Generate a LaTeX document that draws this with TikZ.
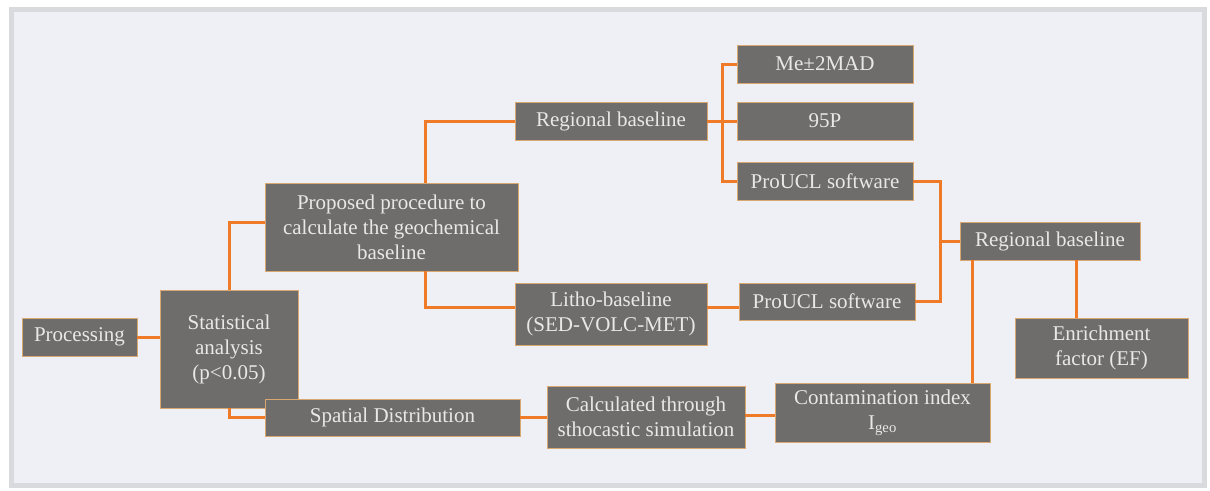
\documentclass[tikz,border=0pt]{standalone}
\usepackage{fontspec}
\setmainfont{Liberation Serif}
\definecolor{boxfill}{HTML}{6E6D6B}
\definecolor{boxtext}{HTML}{E8E8E8}
\definecolor{boxedge}{HTML}{D8A870}
\definecolor{linkorange}{HTML}{EF7B28}
\definecolor{bgfill}{HTML}{EFF0F5}
\definecolor{framegrey}{HTML}{D9DADD}
\begin{document}
\begin{tikzpicture}[x=1pt,y=-1pt,
  box/.style={draw=boxedge, line width=0.8pt, fill=boxfill, text=boxtext,
    font=\fontsize{21}{25}\selectfont, align=center, inner sep=0pt},
  link/.style={draw=linkorange, line width=3pt}]
\useasboundingbox (0,0) rectangle (1210,490);
\fill[white] (0,0) rectangle (1210,490);
\draw[framegrey, line width=5pt, fill=bgfill] (11,9) rectangle (1204,485);

\node[box, minimum width=115pt, minimum height=38pt] (proc) at (79.5,337) {Processing};
\node[box, minimum width=138pt, minimum height=118pt] (stat) at (229,349) {Statistical\\analysis\\(p<0.05)};
\node[box, minimum width=253pt, minimum height=88pt] (prop) at (391.5,227) {Proposed procedure to\\calculate the geochemical\\baseline};
\node[box, minimum width=192pt, minimum height=38pt] (rb1) at (611,121) {Regional baseline};
\node[box, minimum width=176pt, minimum height=38pt] (me) at (825,64) {Me±2MAD};
\node[box, minimum width=176pt, minimum height=38pt] (p95) at (825,121) {95P};
\node[box, minimum width=176pt, minimum height=38pt] (pro1) at (825,181) {ProUCL software};
\node[box, minimum width=192pt, minimum height=62pt] (litho) at (611,314) {Litho-baseline\\(SED-VOLC-MET)};
\node[box, minimum width=176pt, minimum height=37pt] (pro2) at (827,301.5) {ProUCL software};
\node[box, minimum width=180pt, minimum height=38pt] (rb2) at (1050,241) {Regional baseline};
\node[box, minimum width=173pt, minimum height=60pt] (ef) at (1101.5,348) {Enrichment\\factor (EF)};
\node[box, minimum width=255pt, minimum height=37pt] (spat) at (392.5,417.5) {Spatial Distribution};
\node[box, minimum width=198pt, minimum height=62pt] (calc) at (646,417) {Calculated through\\sthocastic simulation};
\node[box, minimum width=215pt, minimum height=59pt] (cont) at (882.5,412.5) {Contamination index\\I\textsubscript{geo}};

\coordinate (j1) at (722,121);
\coordinate (j2) at (940,241);
\path ([yshift=5pt]prop.west) coordinate (pw);
\path ([yshift=7pt]litho.west) coordinate (lw);
\path ([yshift=7pt]litho.east) coordinate (le);
\path ([xshift=33.5pt]prop.north) coordinate (pn);
\path ([xshift=33.5pt]prop.south) coordinate (ps);
\path ([xshift=-78pt]rb2.south) coordinate (rbs1);
\path ([xshift=26pt]rb2.south) coordinate (rbs2);
\path ([yshift=2pt]calc.east) coordinate (ce);

\draw[link] (proc.east) -- (proc.east -| stat.west);
\draw[link] (stat.north) |- (pw);
\draw[link] (stat.south) |- (spat.west);
\draw[link] (pn) |- (rb1.west);
\draw[link] (ps) |- (lw);
\draw[link] (rb1.east) -- (j1);
\draw[link] (me.west) -| (j1);
\draw[link] (j1) -- (p95.west);
\draw[link] (pro1.west) -| (j1);
\draw[link] (le) -- (le -| pro2.west);
\draw[link] (pro1.east) -| (j2);
\draw[link] (pro2.east) -| (j2);
\draw[link] (j2) -- (rb2.west);
\draw[link] (rbs1) -- (rbs1 |- cont.north);
\draw[link] (rbs2) -- (rbs2 |- ef.north);
\draw[link] (spat.east) -- (spat.east -| calc.west);
\draw[link] (ce) -- (ce -| cont.west);
\end{tikzpicture}
\end{document}
